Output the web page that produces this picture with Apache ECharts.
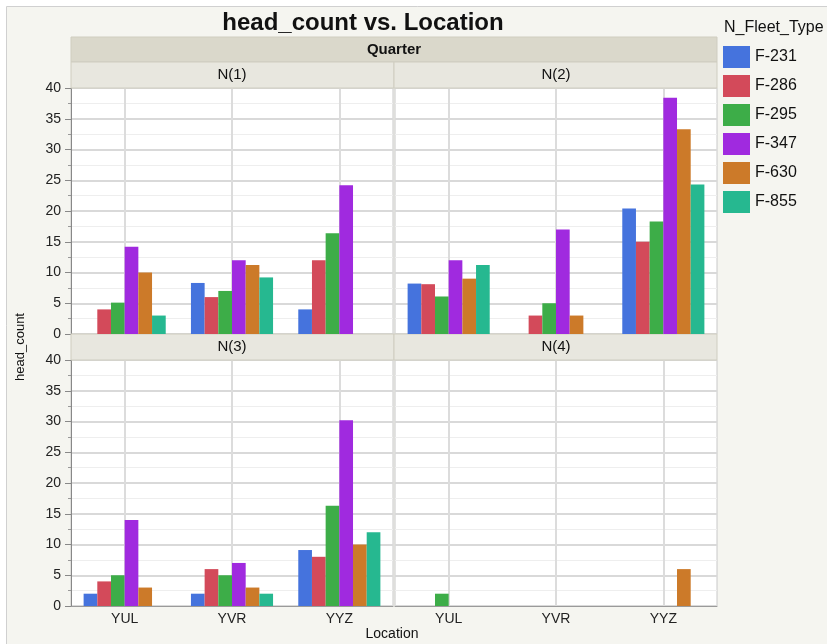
<!DOCTYPE html>
<html>
<head>
<meta charset="utf-8">
<script src="https://cdn.jsdelivr.net/npm/echarts@6/dist/echarts.min.js"></script>
<style>
  html, body { margin: 0; padding: 0; background: #fff; }
  #chart { width: 827px; height: 644px; }
</style>
</head>
<body>
<div id="chart"></div>
<script>
// categories
const locations = ["YUL", "YVR", "YYZ"];
const fleets = ["F-231", "F-286", "F-295", "F-347", "F-630", "F-855"];
const quarters = ["N(1)", "N(2)", "N(3)", "N(4)"];
const fleetColors = ["#4573DD", "#D34A5A", "#3DAD48", "#A02ADF", "#CC7A29", "#26B890"];

// head_count per fleet (rows) and location (columns), one array per quarter
const q1 = [[null, 8.3, 4], [4, 6, 12], [5.1, 7, 16.4], [14.2, 12, 24.2], [10, 11.2, null], [3, 9.2, null]];
const q2 = [[8.2, null, 20.4], [8.1, 3, 15], [6.1, 5, 18.3], [12, 17, 38.4], [9, 3, 33.3], [11.2, null, 24.3]];
const q3 = [[2, 2, 9.1], [4, 6, 8], [5, 5, 16.3], [14, 7, 30.2], [3, 3, 10], [null, 2, 12]];
const q4 = [[null, null, null], [null, null, null], [2, null, null], [null, null, null], [null, null, 6], [null, null, null]];
const quarterData = [q1, q2, q3, q4];

const font = "Liberation Sans, Arial, sans-serif";
const chart = echarts.init(document.getElementById("chart"));

// panel layout: 2 x 2
const panels = [
  { left: 71, top: 88 },
  { left: 395, top: 88 },
  { left: 71, top: 360 },
  { left: 395, top: 360 }
];
const pw = 322, ph = 246;

const grids = panels.map(p => ({
  left: p.left, top: p.top, width: pw, height: ph,
  show: true, backgroundColor: "#ffffff", borderColor: "#c8c8c8", borderWidth: 1
}));

const xAxes = panels.map((p, i) => ({
  type: "category",
  gridIndex: i,
  data: locations,
  axisLine: { show: i >= 2, lineStyle: { color: "#9a9a9a" } },
  axisTick: { show: false, alignWithLabel: true },
  axisLabel: { show: i >= 2, color: "#222", fontSize: 14, fontFamily: font, margin: 6 },
  splitLine: { show: true, alignWithLabel: true, lineStyle: { color: "#dcdcdc", width: 2 } }
}));

const yAxes = panels.map((p, i) => ({
  type: "value",
  gridIndex: i,
  min: 0, max: 40, interval: 5,
  axisLine: { show: i % 2 === 0, lineStyle: { color: "#888" } },
  axisTick: { show: i % 2 === 0, inside: false, length: 6, lineStyle: { color: "#888" } },
  minorTick: { show: i % 2 === 0, splitNumber: 2, length: 3, lineStyle: { color: "#999" } },
  axisLabel: { show: i % 2 === 0, color: "#222", fontSize: 14, fontFamily: font, margin: 10 },
  splitLine: { show: true, lineStyle: { color: "#d9d9d9", width: 2 } },
  minorSplitLine: { show: true, lineStyle: { color: "#eeeeee", width: 1 } }
}));

const series = [];
quarterData.forEach((q, pi) => {
  fleets.forEach((f, fi) => {
    series.push({
      name: f,
      type: "bar",
      xAxisIndex: pi,
      yAxisIndex: pi,
      data: q[fi],
      barGap: "0%",
      barCategoryGap: "23.5%",
      itemStyle: { color: fleetColors[fi] },
      emphasis: { disabled: true },
      animation: false
    });
  });
});

const bandText = (txt, x, y, bold) => ({
  type: "text", z: 3,
  style: {
    text: txt, x: x, y: y, textAlign: "center", textVerticalAlign: "middle",
    fontSize: 15, fontWeight: bold ? "bold" : "normal", fontFamily: font, fill: "#111"
  }
});
const bandRect = (x, y, w, h, fill) => ({
  type: "rect", z: 2,
  shape: { x: x, y: y, width: w, height: h },
  style: { fill: fill, stroke: "#cfcdc0", lineWidth: 1 }
});

const option = {
  animation: false,
  color: fleetColors,
  grid: grids,
  xAxis: xAxes,
  yAxis: yAxes,
  legend: {
    data: fleets,
    orient: "vertical",
    left: 723, top: 46,
    padding: 0,
    itemWidth: 27, itemHeight: 22, itemGap: 7,
    icon: "rect",
    selectedMode: false,
    textStyle: { fontSize: 16, fontFamily: font, color: "#111" }
  },
  graphic: [
    {
      type: "rect", z: -10,
      shape: { x: 6.5, y: 6.5, width: 900, height: 700 },
      style: { fill: "#f5f5f0", stroke: "#d0d0d0", lineWidth: 1 }
    },
    {
      type: "text", z: 3,
      style: {
        text: "head_count vs. Location", x: 363, y: 23, textAlign: "center", textVerticalAlign: "middle",
        fontSize: 24, fontWeight: "bold", fontFamily: font, fill: "#111"
      }
    },
    {
      type: "text", z: 3,
      style: {
        text: "N_Fleet_Type", x: 724, y: 28, textAlign: "left", textVerticalAlign: "middle",
        fontSize: 16, fontFamily: font, fill: "#111"
      }
    },
    bandRect(71, 37, 646, 25, "#dad8cb"),
    bandText("Quarter", 394, 50, true),
    bandRect(71, 62, 323, 26, "#e8e7df"),
    bandRect(394, 62, 323, 26, "#e8e7df"),
    bandRect(71, 334, 323, 26, "#e8e7df"),
    bandRect(394, 334, 323, 26, "#e8e7df"),
    bandText(quarters[0], 232, 75, false),
    bandText(quarters[1], 556, 75, false),
    bandText(quarters[2], 232, 347, false),
    bandText(quarters[3], 556, 347, false),
    {
      type: "text", z: 3, rotation: Math.PI / 2, x: 20, y: 347,
      style: {
        text: "head_count", x: 0, y: 0, textAlign: "center", textVerticalAlign: "middle",
        fontSize: 13, fontFamily: font, fill: "#111"
      }
    },
    {
      type: "text", z: 3,
      style: {
        text: "Location", x: 392, y: 634, textAlign: "center", textVerticalAlign: "middle",
        fontSize: 14, fontFamily: font, fill: "#111"
      }
    }
  ],
  series: series
};

chart.setOption(option);
</script>
</body>
</html>
